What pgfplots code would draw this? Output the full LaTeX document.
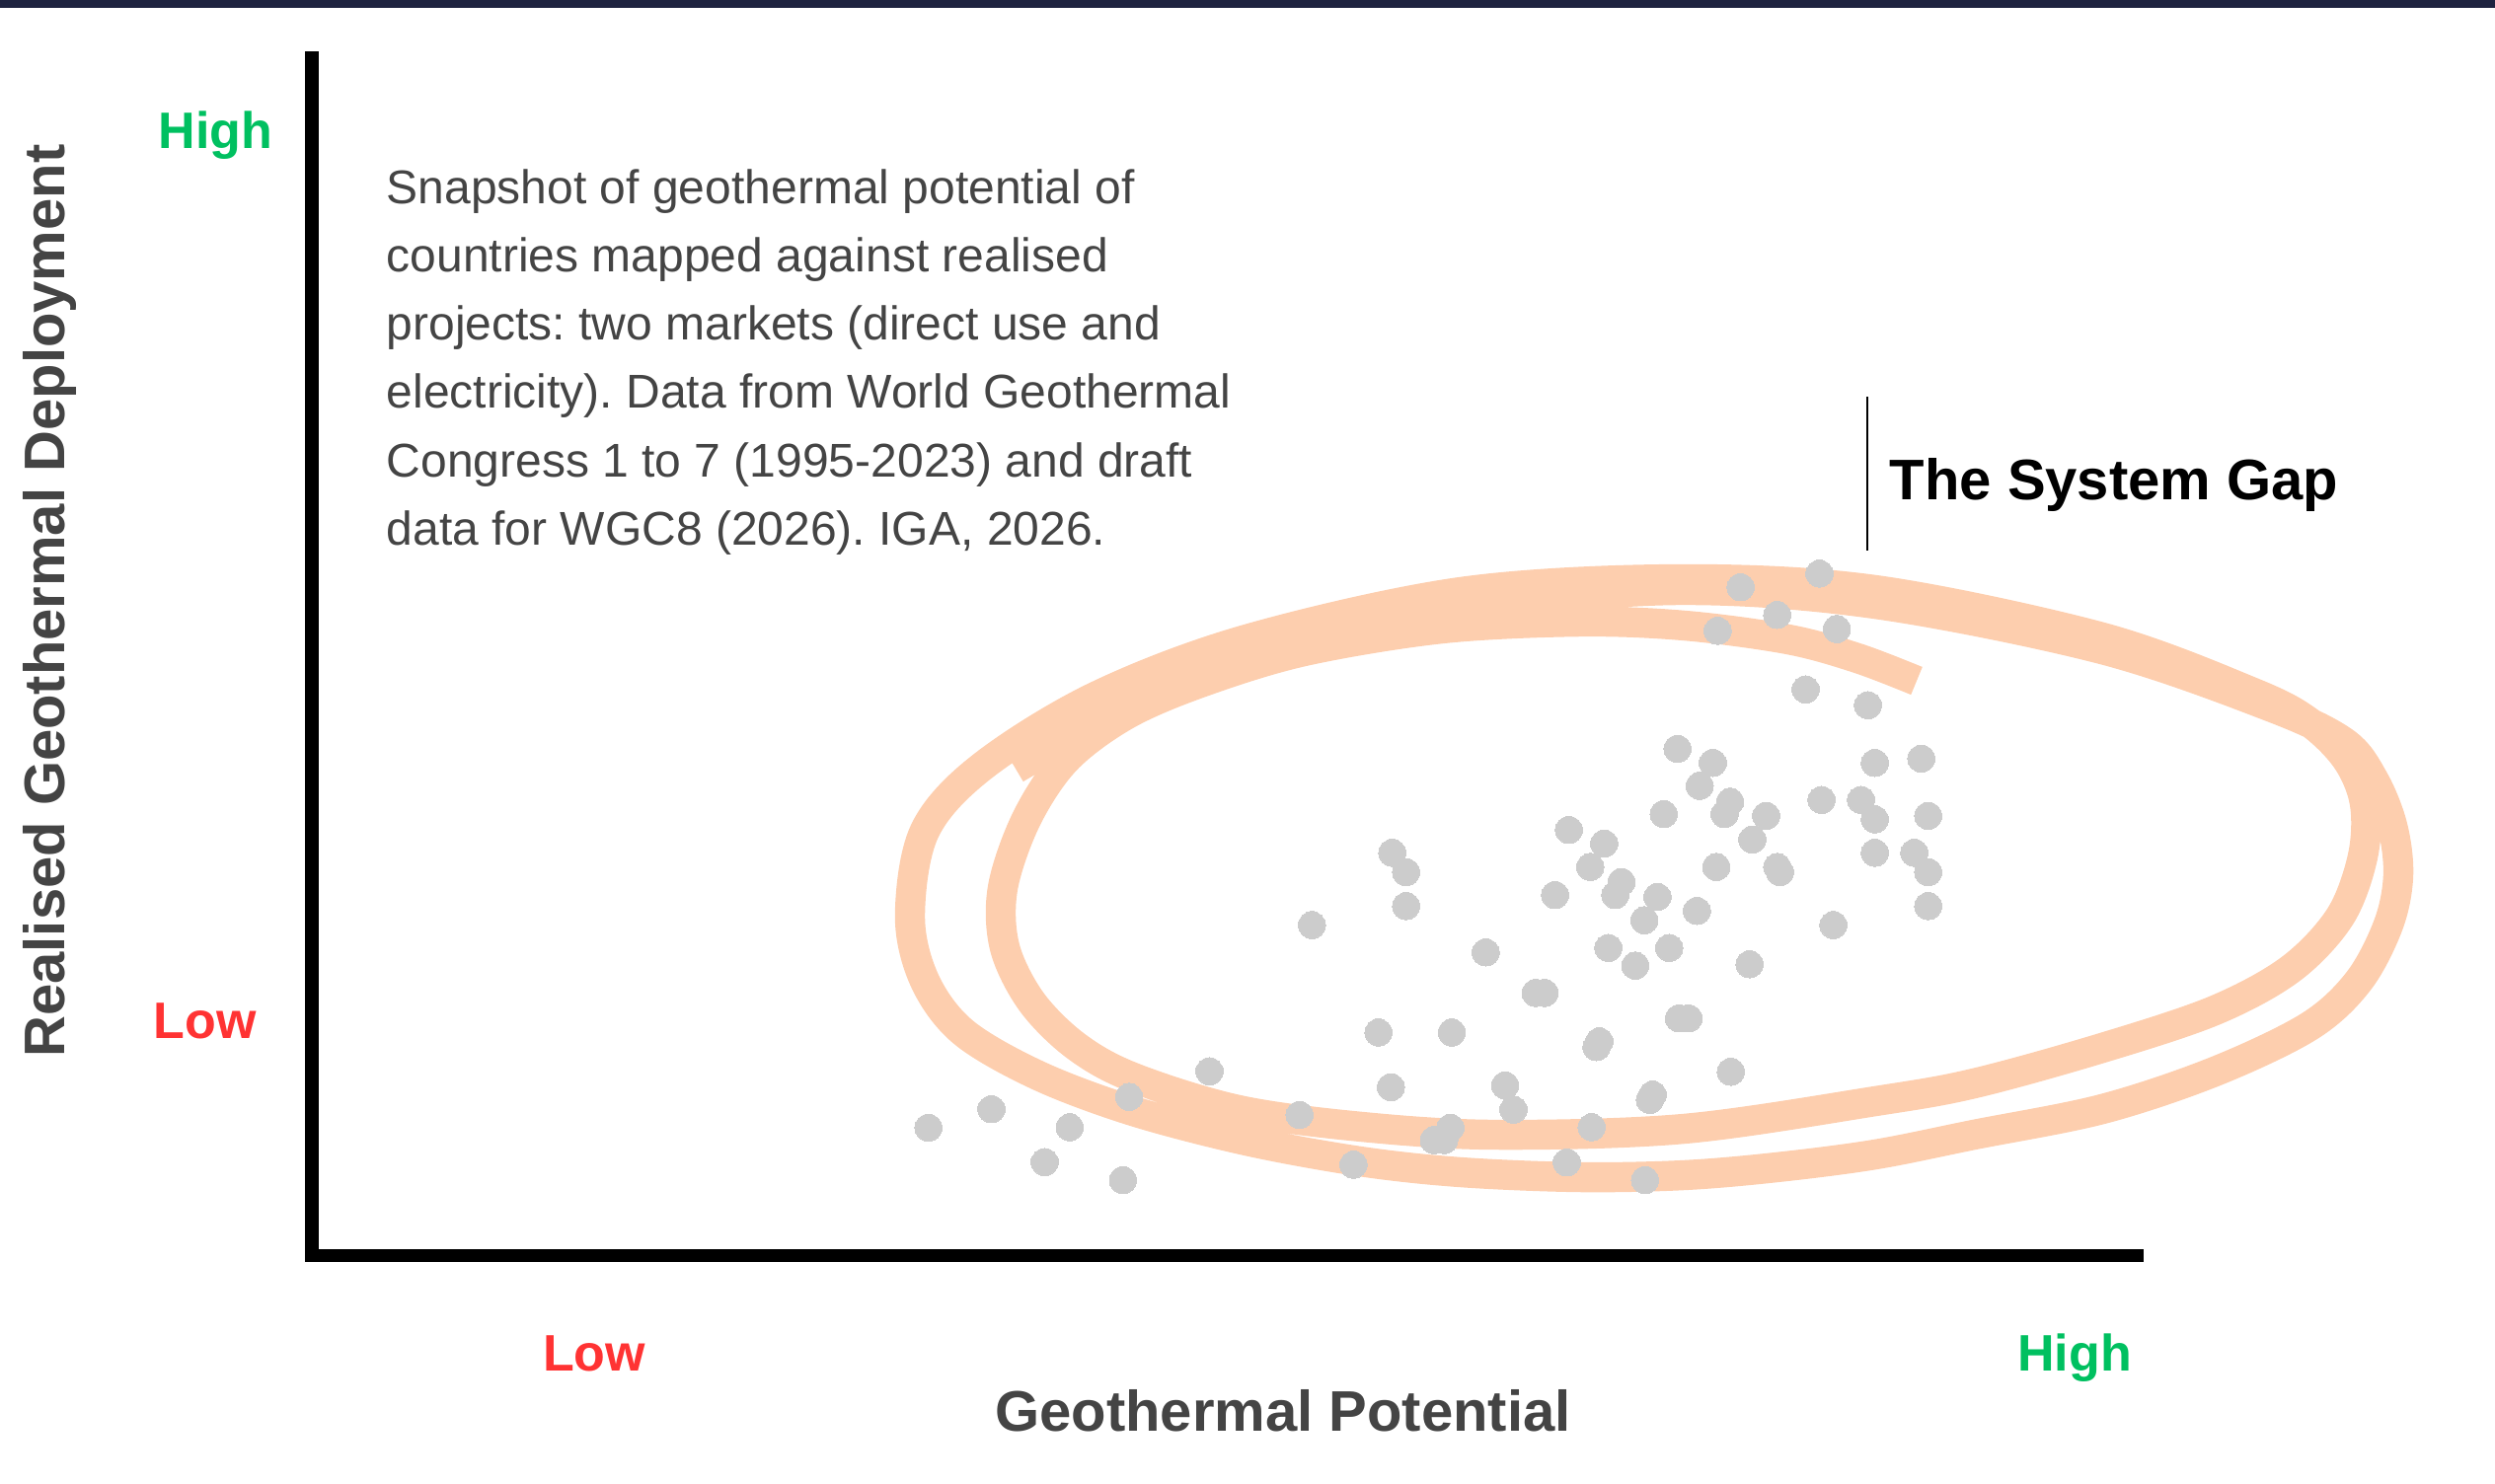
\documentclass[border=0pt]{standalone}
\usepackage{pgfplots}
\pgfplotsset{compat=1.18}
\usepackage{fontspec}
\setmainfont{Liberation Sans}
\definecolor{navy}{RGB}{30,35,64}
\definecolor{txtgray}{RGB}{68,68,68}
\definecolor{hi}{RGB}{0,192,96}
\definecolor{lo}{RGB}{255,51,51}
\definecolor{ptgray}{RGB}{204,204,204}
\definecolor{orng}{RGB}{249,115,22}
\begin{document}
\frenchspacing
\begin{tikzpicture}
\path[use as bounding box] (0,0) rectangle (632pt,375.75pt);
\begin{axis}[at={(0,0)}, anchor=south west, width=632pt, height=375.75pt,
  scale only axis, xmin=0, xmax=2528, ymin=0, ymax=1503, y dir=reverse,
  hide axis, clip=false]
% top bar
\fill[navy] (axis cs:0,0) rectangle (axis cs:2528,8);
% axis lines
\draw[line width=3.4pt, line join=miter, line cap=butt, black]
  (axis cs:316,52) -- (axis cs:316,1272.5) -- (axis cs:2172,1272.5);
% points
\addplot[ptgray, only marks, mark=*, mark size=3.45pt,
  mark options={fill=ptgray, draw=ptgray, line width=0pt}] table {
x y
1843.5 581.3
1763.6 595.1
1800.7 623.2
1740.4 639.3
1861.1 637.5
1829.5 698.7
1892.6 714.7
1699.7 758.9
1735.5 773.2
1899.6 773.2
1946.7 768.8
1722.2 796.4
1753.0 812.5
1747.4 825.0
1685.7 825.0
1789.5 826.8
1845.6 810.7
1885.6 810.7
1899.6 830.4
1953.7 826.8
1589.6 841.1
1625.4 854.9
1775.5 850.9
1410.7 864.3
1424.7 883.9
1611.3 878.6
1739.0 878.6
1800.7 878.6
1803.5 883.9
1899.6 864.3
1939.6 864.3
1953.7 883.9
1642.9 893.8
1636.6 907.1
1575.6 907.1
1679.4 908.9
1424.7 918.3
1953.7 918.3
1329.3 937.5
1719.4 923.2
1666.1 932.6
1857.6 937.5
1505.4 965.2
1629.6 960.7
1691.3 960.7
1656.9 978.6
1772.7 977.2
1555.9 1006.3
1565.0 1006.3
1701.1 1032.1
1710.9 1032.1
1396.7 1046.4
1471.0 1046.4
1620.5 1055.4
1617.6 1061.2
1225.5 1085.7
1753.7 1086.2
1409.3 1101.8
1525.0 1100.0
1674.5 1109.4
1671.7 1114.7
1144.1 1111.6
1004.5 1124.1
940.7 1142.9
1083.8 1142.4
1316.7 1129.9
1533.5 1124.6
1469.6 1142.9
1612.7 1142.4
1452.8 1155.4
1463.3 1155.4
1058.5 1177.7
1371.4 1180.4
1587.5 1178.1
1137.8 1196.0
1666.7 1196.0
};
% hand-drawn spiral
\addplot[smooth, tension=0.55, line width=7.6pt, line cap=butt, line join=round,
  draw=orng, draw opacity=0.35] coordinates {
(1942,690) (1882,667) (1812,648) (1707,634) (1601,630) (1461,637) (1321,660)
(1216,692) (1140,725) (1080,770) (1040,830) (1016,900) (1018,960) (1045,1015)
(1090,1060) (1148,1092) (1255,1125) (1380,1142) (1515,1150) (1706,1144)
(1900,1116) (2000,1098) (2130,1062) (2244,1024) (2321,982) (2371,929)
(2394,868) (2396,814) (2378,770) (2340,732) (2283,702) (2130,646) (1900,598)
(1700,587) (1480,600) (1263,648) (1110,706) (995,777) (937,842) (922,929)
(937,994) (976,1046) (1052,1090) (1148,1126) (1263,1156) (1378,1177)
(1480,1188) (1600,1193) (1706,1191) (1800,1183) (1900,1170) (2000,1150)
(2130,1124) (2244,1086) (2340,1040) (2390,994) (2420,937) (2430,887)
(2424,837) (2405,790) (2375,752) (2300,716) (2130,658) (1900,612) (1700,598)
(1480,615) (1339,640) (1224,677) (1110,733) (1029,779)
};
% paragraph
\begin{scope}[every node/.style={anchor=base west, inner sep=0pt, text=txtgray, font=\fontsize{12}{14}\selectfont}]
\node at (axis cs:391,206) {Snapshot of geothermal potential of};
\node at (axis cs:391,275.3) {countries mapped against realised};
\node at (axis cs:391,344.6) {projects: two markets (direct use and};
\node at (axis cs:391,413.9) {electricity). Data from World Geothermal};
\node at (axis cs:391,483.2) {Congress 1 to 7 (1995-2023) and draft};
\node at (axis cs:391,552.5) {data for WGC8 (2026). IGA, 2026.};
\end{scope}
% system gap
\draw[line width=0.5pt, black] (axis cs:1892,402) -- (axis cs:1892,558);
\node[anchor=base west, inner sep=0pt, font=\fontsize{14.5}{16}\selectfont\bfseries] at (axis cs:1914,506.7) {The System Gap};
% axis labels
\node[anchor=base, inner sep=0pt, text=txtgray, font=\fontsize{14.5}{16}\selectfont\bfseries] at (axis cs:1300,1450) {Geothermal Potential};
\node[anchor=base, inner sep=0pt, rotate=90, text=txtgray, font=\fontsize{14.5}{16}\selectfont\bfseries] at (axis cs:65.5,609) {Realised Geothermal Deployment};
\node[anchor=base, inner sep=0pt, text=lo, font=\fontsize{13}{15}\selectfont\bfseries] at (axis cs:602,1389) {Low};
\node[anchor=base, inner sep=0pt, text=hi, font=\fontsize{13}{15}\selectfont\bfseries] at (axis cs:2102,1389) {High};
\node[anchor=base, inner sep=0pt, text=hi, font=\fontsize{13}{15}\selectfont\bfseries] at (axis cs:218.5,150) {High};
\node[anchor=base, inner sep=0pt, text=lo, font=\fontsize{13}{15}\selectfont\bfseries] at (axis cs:207.5,1052.7) {Low};
\end{axis}
\end{tikzpicture}
\end{document}
